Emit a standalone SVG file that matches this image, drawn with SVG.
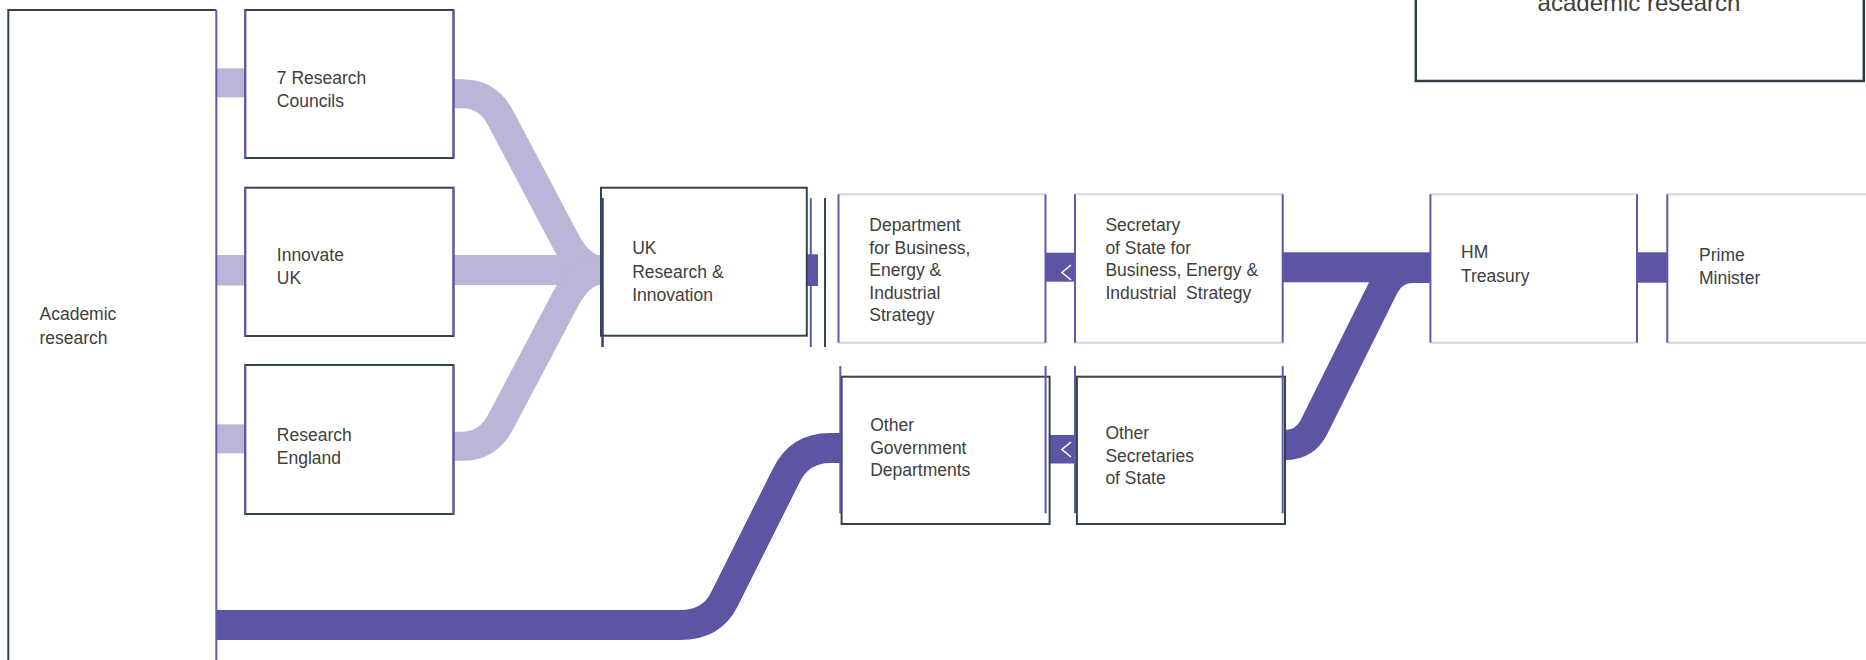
<svg xmlns="http://www.w3.org/2000/svg" width="1866" height="660" viewBox="0 0 1866 660">
<style>
text { font-family: "Liberation Sans", Arial, sans-serif; font-size: 17.5px; fill: #404040; }
.wb { fill: #ffffff; }
.dk { fill: none; stroke: #34444b; stroke-width: 2; }
.pl { fill: none; stroke: #5f58ad; stroke-width: 2; }
.nv { fill: none; stroke: #3e3f7c; stroke-width: 2.5; }
.gy { fill: none; stroke: #dcdde2; stroke-width: 2.5; }
.lb { fill: none; stroke: #bcb5d8; stroke-width: 29; }
.lbf { fill: #bcb5d8; }
.db { fill: none; stroke: #5b55a3; stroke-width: 30; }
.dbf { fill: #5b55a3; }
.chev { fill: none; stroke: #ffffff; stroke-width: 1.6; }
.big { font-size: 24px; }
</style>
<rect x="0" y="0" width="1866" height="660" fill="#ffffff"/>

<g id="connectors">
  <rect class="lbf" x="216" y="68.3" width="29.5" height="29"/>
  <rect class="lbf" x="216" y="255" width="29.5" height="30.5"/>
  <rect class="lbf" x="216" y="424.3" width="29.5" height="29"/>
  <path class="lb" d="M453,93.8 L463,93.8 Q488,93.8 501,118.7 L565,240 Q580.7,270 602,270"/>
  <rect class="lbf" x="453" y="255" width="149" height="30"/>
  <path class="lb" d="M453,446.2 L463,446.2 Q488,446.2 501,421.3 L565,300 Q580.7,270 602,270"/>

  <rect class="dbf" x="806" y="254.3" width="12" height="31.7"/>
  <rect class="dbf" x="1045" y="252.7" width="30" height="29"/>
  <polyline class="chev" points="1071,265 1062,272.5 1071,280"/>
  <rect class="dbf" x="1049" y="435" width="26" height="28.5"/>
  <polyline class="chev" points="1071,442 1062,449.5 1071,457"/>
  <rect class="dbf" x="1282.7" y="252.3" width="147.7" height="30"/>
  <rect class="dbf" x="1637" y="252.3" width="30.3" height="30.4"/>
  <path class="db" d="M1285,445 Q1305,445 1314,427 L1384,286 Q1393,268 1413,268 L1430,268"/>
  <path class="db" d="M216,625 L680,625 Q711.4,625 724,600 L786.5,475 Q800,448 830,448 L842,448"/>
</g>

<g id="academic-research">
  <rect class="wb" x="8.3" y="10" width="208" height="700"/>
  <polyline class="dk" points="216.3,10 8.3,10 8.3,660"/>
  <line class="pl" x1="216.3" y1="10" x2="216.3" y2="660"/>
  <text x="39.5" y="320">Academic</text>
  <text x="39.5" y="343.5">research</text>
</g>

<g id="research-councils">
  <rect class="wb dk" x="245.2" y="10" width="208.3" height="148"/>
  <line class="pl" x1="245.2" y1="10" x2="245.2" y2="158"/>
  <line class="pl" x1="453.5" y1="10" x2="453.5" y2="158"/>
  <text x="276.8" y="83.5">7 Research</text>
  <text x="276.8" y="106.5">Councils</text>
</g>

<g id="innovate-uk">
  <rect class="wb dk" x="245.2" y="187.7" width="208.3" height="148.3"/>
  <line class="pl" x1="245.2" y1="187.7" x2="245.2" y2="336"/>
  <line class="pl" x1="453.5" y1="187.7" x2="453.5" y2="336"/>
  <text x="276.8" y="261">Innovate</text>
  <text x="276.8" y="284">UK</text>
</g>

<g id="research-england">
  <rect class="wb dk" x="245.2" y="365" width="208.3" height="149"/>
  <line class="pl" x1="245.2" y1="365" x2="245.2" y2="514"/>
  <line class="pl" x1="453.5" y1="365" x2="453.5" y2="514"/>
  <text x="276.8" y="441">Research</text>
  <text x="276.8" y="464">England</text>
</g>

<g id="ukri">
  <rect class="wb dk" x="601" y="187.7" width="205.8" height="148"/>
  <line class="nv" x1="602.5" y1="198" x2="602.5" y2="347"/>
  <line class="pl" x1="810.8" y1="198" x2="810.8" y2="347"/>
  <line class="dk" x1="825" y1="198" x2="825" y2="347"/>
  <text x="632.2" y="254">UK</text>
  <text x="632.2" y="278">Research &amp;</text>
  <text x="632.2" y="301">Innovation</text>
</g>

<g id="dbeis">
  <rect class="wb" x="838.5" y="194.3" width="207" height="148.4"/>
  <line class="gy" x1="838.5" y1="194.3" x2="1045.5" y2="194.3"/>
  <line class="gy" x1="838.5" y1="342.7" x2="1045.5" y2="342.7"/>
  <line class="pl" x1="838.5" y1="194.3" x2="838.5" y2="342.7"/>
  <line class="pl" x1="1045.5" y1="194.3" x2="1045.5" y2="342.7"/>
  <text x="869.3" y="231">Department</text>
  <text x="869.3" y="253.5">for Business,</text>
  <text x="869.3" y="276">Energy &amp;</text>
  <text x="869.3" y="298.5">Industrial</text>
  <text x="869.3" y="321">Strategy</text>
</g>

<g id="secretary-of-state-beis">
  <rect class="wb" x="1075" y="194.3" width="207.7" height="148.4"/>
  <line class="gy" x1="1075" y1="194.3" x2="1282.7" y2="194.3"/>
  <line class="gy" x1="1075" y1="342.7" x2="1282.7" y2="342.7"/>
  <line class="pl" x1="1075" y1="194.3" x2="1075" y2="342.7"/>
  <line class="pl" x1="1282.7" y1="194.3" x2="1282.7" y2="342.7"/>
  <text x="1105.4" y="231">Secretary</text>
  <text x="1105.4" y="253.5">of State for</text>
  <text x="1105.4" y="276">Business, Energy &amp;</text>
  <text x="1105.4" y="298.5" xml:space="preserve">Industrial  Strategy</text>
</g>

<g id="hm-treasury">
  <rect class="wb" x="1430.4" y="194.3" width="206.6" height="148.4"/>
  <line class="gy" x1="1430.4" y1="194.3" x2="1637" y2="194.3"/>
  <line class="gy" x1="1430.4" y1="342.7" x2="1637" y2="342.7"/>
  <line class="pl" x1="1430.4" y1="194.3" x2="1430.4" y2="342.7"/>
  <line class="pl" x1="1637" y1="194.3" x2="1637" y2="342.7"/>
  <text x="1461" y="258">HM</text>
  <text x="1461" y="281.5">Treasury</text>
</g>

<g id="prime-minister">
  <rect class="wb" x="1667.3" y="194.3" width="200" height="148.4"/>
  <line class="gy" x1="1667.3" y1="194.3" x2="1866" y2="194.3"/>
  <line class="gy" x1="1667.3" y1="342.7" x2="1866" y2="342.7"/>
  <line class="pl" x1="1667.3" y1="194.3" x2="1667.3" y2="342.7"/>
  <text x="1699" y="261">Prime</text>
  <text x="1699" y="284">Minister</text>
</g>

<g id="other-government-departments">
  <rect class="wb dk" x="841.6" y="376.7" width="208" height="147.3"/>
  <line class="pl" x1="840.3" y1="366" x2="840.3" y2="513.3"/>
  <line class="pl" x1="1045.6" y1="366" x2="1045.6" y2="513.3"/>
  <text x="870.2" y="431">Other</text>
  <text x="870.2" y="453.5">Government</text>
  <text x="870.2" y="476">Departments</text>
</g>

<g id="other-secretaries-of-state">
  <rect class="wb dk" x="1076.9" y="376.7" width="208.1" height="147.3"/>
  <line class="pl" x1="1075" y1="366" x2="1075" y2="513.3"/>
  <line class="pl" x1="1282.7" y1="366" x2="1282.7" y2="513.3"/>
  <text x="1105.4" y="438.5">Other</text>
  <text x="1105.4" y="461.5">Secretaries</text>
  <text x="1105.4" y="484">of State</text>
</g>

<g id="legend-academic-research">
  <rect class="wb" x="1415.8" y="-10" width="448" height="91" stroke="#2e3e45" stroke-width="2.5"/>
  <text class="big" x="1639" y="11" text-anchor="middle">academic research</text>
</g>
</svg>
